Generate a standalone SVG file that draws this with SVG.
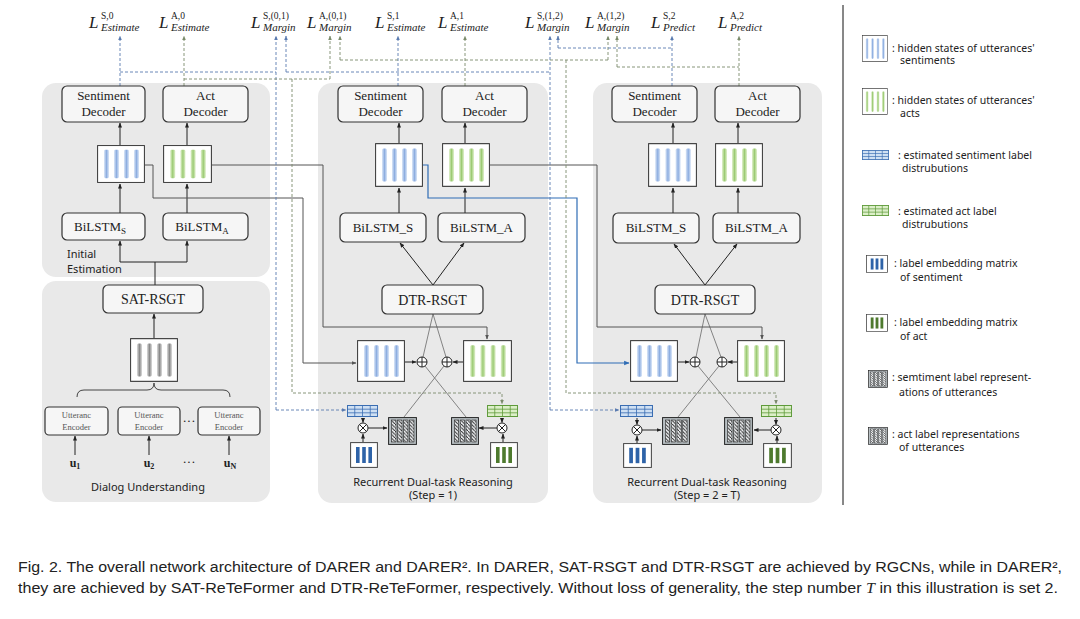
<svg xmlns="http://www.w3.org/2000/svg" width="1080" height="619" viewBox="0 0 1080 619">
<style>
.panel{fill:#e9e9e9;stroke:none}
.box{fill:#f6f6f6;stroke:#333;stroke-width:1.2}
.bt{font-family:"Liberation Serif",serif;font-size:13px;fill:#222;text-anchor:middle}
.bt2{font-family:"Liberation Serif",serif;font-size:14px;fill:#222;text-anchor:middle}
.ue{font-family:"Liberation Serif",serif;font-size:8.5px;fill:#555;text-anchor:middle}
.u{font-family:"Liberation Serif",serif;font-size:12px;font-weight:bold;fill:#222;text-anchor:middle}
.cm{font-family:"Noto Sans",sans-serif;font-size:11px;fill:#222}
.lg{font-family:"Noto Sans",sans-serif;font-size:10.5px;fill:#222}
.L{font-family:"Liberation Serif",serif;font-size:17px;font-style:italic;fill:#222}
.sup{font-family:"Liberation Serif",serif;font-size:9.5px;fill:#222}
.sub{font-family:"Liberation Serif",serif;font-size:11px;font-style:italic;fill:#222}
.cap{font-family:"Liberation Sans",sans-serif;font-size:14px;fill:#222}
.ar{fill:none;stroke:#222;stroke-width:1;marker-end:url(#ah)}
.ln{fill:none;stroke:#777;stroke-width:0.9}
.fg{fill:none;stroke:#555;stroke-width:1;marker-end:url(#ahg)}
.fb{fill:none;stroke:#2f6db5;stroke-width:1.2;marker-end:url(#ahb)}
.ds{fill:none;stroke:#5a7bb0;stroke-width:0.9;stroke-dasharray:3 2}
.da{fill:none;stroke:#7b8b6b;stroke-width:0.9;stroke-dasharray:3 2}
.dsa{marker-end:url(#ahs)}
.daa{marker-end:url(#aha)}
.op{fill:#fff;stroke:#222;stroke-width:1}
</style>
<defs>
<marker id="ah" viewBox="0 0 10 10" refX="9" refY="5" markerWidth="5" markerHeight="5" orient="auto"><path d="M0,1L10,5L0,9z" fill="#222"/></marker>
<marker id="ahg" viewBox="0 0 10 10" refX="9" refY="5" markerWidth="5" markerHeight="5" orient="auto"><path d="M0,1L10,5L0,9z" fill="#555"/></marker>
<marker id="ahb" viewBox="0 0 10 10" refX="9" refY="5" markerWidth="4.5" markerHeight="4.5" orient="auto"><path d="M0,1L10,5L0,9z" fill="#2f6db5"/></marker>
<marker id="ahs" viewBox="0 0 10 10" refX="9" refY="5" markerWidth="5" markerHeight="5" orient="auto"><path d="M0,1L10,5L0,9z" fill="#5a7bb0"/></marker>
<marker id="aha" viewBox="0 0 10 10" refX="9" refY="5" markerWidth="5" markerHeight="5" orient="auto"><path d="M0,1L10,5L0,9z" fill="#7b8b6b"/></marker>
<linearGradient id="gB" x1="0" y1="0" x2="1" y2="0"><stop offset="0" stop-color="#dbe7f8"/><stop offset="0.5" stop-color="#8eaee0"/><stop offset="1" stop-color="#dbe7f8"/></linearGradient>
<linearGradient id="gG" x1="0" y1="0" x2="1" y2="0"><stop offset="0" stop-color="#e2f1cf"/><stop offset="0.5" stop-color="#9ccb74"/><stop offset="1" stop-color="#e2f1cf"/></linearGradient>
<linearGradient id="gK" x1="0" y1="0" x2="1" y2="0"><stop offset="0" stop-color="#dcdcdc"/><stop offset="0.5" stop-color="#8a8a8a"/><stop offset="1" stop-color="#dcdcdc"/></linearGradient>
<pattern id="hatch" width="3.5" height="3.5" patternUnits="userSpaceOnUse"><rect width="3.5" height="3.5" fill="#eef0f2"/><path d="M0,0L3.5,3.5" stroke="#222" stroke-width="0.9"/></pattern>
<symbol id="hsB" viewBox="0 0 48 40" preserveAspectRatio="none">
<rect x="0.6" y="0.6" width="46.8" height="38.8" fill="#fff" stroke="#333" stroke-width="1"/>
<rect x="7" y="5" width="5" height="30" rx="1.5" fill="url(#gB)"/><rect x="17" y="5" width="5" height="30" rx="1.5" fill="url(#gB)"/><rect x="27" y="5" width="5" height="30" rx="1.5" fill="url(#gB)"/><rect x="37" y="5" width="5" height="30" rx="1.5" fill="url(#gB)"/>
</symbol>
<symbol id="hsG" viewBox="0 0 48 40" preserveAspectRatio="none">
<rect x="0.6" y="0.6" width="46.8" height="38.8" fill="#fff" stroke="#333" stroke-width="1"/>
<rect x="7" y="5" width="5" height="30" rx="1.5" fill="url(#gG)"/><rect x="17" y="5" width="5" height="30" rx="1.5" fill="url(#gG)"/><rect x="27" y="5" width="5" height="30" rx="1.5" fill="url(#gG)"/><rect x="37" y="5" width="5" height="30" rx="1.5" fill="url(#gG)"/>
</symbol>
<symbol id="hsK" viewBox="0 0 48 40" preserveAspectRatio="none">
<rect x="0.6" y="0.6" width="46.8" height="38.8" fill="#fff" stroke="#333" stroke-width="1"/>
<rect x="7" y="5" width="5" height="30" rx="1.5" fill="url(#gK)"/><rect x="17" y="5" width="5" height="30" rx="1.5" fill="url(#gK)"/><rect x="27" y="5" width="5" height="30" rx="1.5" fill="url(#gK)"/><rect x="37" y="5" width="5" height="30" rx="1.5" fill="url(#gK)"/>
</symbol>
<symbol id="ldB" viewBox="0 0 32 12" preserveAspectRatio="none">
<rect x="0.5" y="0.5" width="31" height="11" fill="#cfe0f3" stroke="#3a6db2"/>
<path d="M0.5,4.2H31.5M0.5,7.8H31.5M8,0.5V11.5M16,0.5V11.5M24,0.5V11.5" stroke="#3a6db2" stroke-width="0.8"/>
</symbol>
<symbol id="ldG" viewBox="0 0 32 12" preserveAspectRatio="none">
<rect x="0.5" y="0.5" width="31" height="11" fill="#dcefc8" stroke="#5e9a3a"/>
<path d="M0.5,4.2H31.5M0.5,7.8H31.5M8,0.5V11.5M16,0.5V11.5M24,0.5V11.5" stroke="#5e9a3a" stroke-width="0.8"/>
</symbol>
<symbol id="emB" viewBox="0 0 28 26" preserveAspectRatio="none">
<rect x="0.6" y="0.6" width="26.8" height="24.8" fill="#fff" stroke="#444"/>
<rect x="6" y="5" width="3.6" height="16" fill="#2e63a8"/><rect x="12.2" y="5" width="3.6" height="16" fill="#2e63a8"/><rect x="18.4" y="5" width="3.6" height="16" fill="#2e63a8"/>
</symbol>
<symbol id="emG" viewBox="0 0 28 26" preserveAspectRatio="none">
<rect x="0.6" y="0.6" width="26.8" height="24.8" fill="#fff" stroke="#444"/>
<rect x="6" y="5" width="3.6" height="16" fill="#4e7a2e"/><rect x="12.2" y="5" width="3.6" height="16" fill="#4e7a2e"/><rect x="18.4" y="5" width="3.6" height="16" fill="#4e7a2e"/>
</symbol>
<symbol id="rep" viewBox="0 0 29 28" preserveAspectRatio="none">
<rect x="0.6" y="0.6" width="27.8" height="26.8" fill="#b9c0c4" stroke="#222"/>
<rect x="3.5" y="3" width="4.5" height="22" fill="url(#hatch)" stroke="#222" stroke-width="0.6"/><rect x="9.5" y="3" width="4.5" height="22" fill="url(#hatch)" stroke="#222" stroke-width="0.6"/><rect x="15.5" y="3" width="4.5" height="22" fill="url(#hatch)" stroke="#222" stroke-width="0.6"/><rect x="21.5" y="3" width="4.5" height="22" fill="url(#hatch)" stroke="#222" stroke-width="0.6"/>
</symbol>
<symbol id="plus" viewBox="-6 -6 12 12"><circle r="5" fill="#fff" stroke="#222" stroke-width="1"/><path d="M-5,0H5M0,-5V5" stroke="#222" stroke-width="1"/></symbol>
<symbol id="times" viewBox="-6 -6 12 12"><circle r="5" fill="#fff" stroke="#222" stroke-width="1"/><path d="M-3.5,-3.5L3.5,3.5M-3.5,3.5L3.5,-3.5" stroke="#222" stroke-width="1"/></symbol>
</defs>
<rect width="1080" height="619" fill="#fff"/>

<!-- panels -->
<g id="panels">
<rect class="panel" x="42" y="83" width="228" height="194" rx="14"/>
<rect class="panel" x="42" y="281" width="228" height="221" rx="14"/>
<rect class="panel" x="318" y="83" width="230" height="420" rx="14"/>
<rect class="panel" x="593" y="83" width="229" height="420" rx="14"/>
<line x1="843" y1="5" x2="843" y2="505" stroke="#111" stroke-width="1"/>
</g>

<!-- connectors -->
<g id="connectors">
<!-- left top -->
<path class="ar" d="M120,145V123"/>
<path class="ar" d="M187,145V123"/>
<path class="ar" d="M120,213V184"/>
<path class="ar" d="M187,213V184"/>
<path class="ar" d="M155,285V262H120V241"/>
<path class="ar" d="M155,262H187V241"/>
<!-- left bottom -->
<path class="ar" d="M154,338V314"/>
<path class="ar" d="M75,455V436"/>
<path class="ar" d="M149,455V436"/>
<path class="ar" d="M229,455V436"/>
<path d="M77,397Q77,390 84,390H147Q154,390 154,383Q154,390 161,390H223Q230,390 230,397" fill="none" stroke="#444" stroke-width="1"/>
<!-- middle -->
<path class="ar" d="M399,143V123"/>
<path class="ar" d="M465,143V123"/>
<path class="ar" d="M399,213V188"/>
<path class="ar" d="M465,213V188"/>
<path class="ar" d="M433,285L400,243"/>
<path class="ar" d="M433,285L464,243"/>
<path class="ar" d="M405,362H416"/>
<path class="ar" d="M463,362H453"/>
<path class="ar" d="M363,418V422.5"/>
<path class="ar" d="M363,442V434"/>
<path class="ar" d="M368,428H387"/>
<path class="ar" d="M502,418V422.5"/>
<path class="ar" d="M503,442V434"/>
<path class="ar" d="M497,428H479"/>
<path class="ln" d="M433,314L423,357M433,314L446,357M425,366L466,417M444,366L404,417"/>
<!-- right -->
<path class="ar" d="M673,143V123"/>
<path class="ar" d="M738,143V123"/>
<path class="ar" d="M673,213V188"/>
<path class="ar" d="M738,213V188"/>
<path class="ar" d="M705,285L674,244"/>
<path class="ar" d="M705,285L737,244"/>
<path class="ar" d="M678,362H689"/>
<path class="ar" d="M737,362H728"/>
<path class="ar" d="M637,418V424.5"/>
<path class="ar" d="M637,443V436"/>
<path class="ar" d="M642,430H661"/>
<path class="ar" d="M776,418V424.5"/>
<path class="ar" d="M777,443V436"/>
<path class="ar" d="M771,430H754"/>
<path class="ln" d="M705,314L696,357M705,314L721,357M698,366L740,417M719,366L678,417"/>
<!-- feeds between steps -->
<path class="fg" d="M145,165H153V198H303V363H356"/>
<path class="fg" d="M212,165H323V327H487V339"/>
<path class="fb" d="M423,165H428V198H577V363H629"/>
<path class="fg" d="M490,165H597V327H762V339"/>
<!-- dashed loss connectors: sentiment step 0 -->
<path class="ds dsa" d="M120,86V36"/>
<path class="ds" d="M120,72H276"/>
<path class="ds dsa" d="M276,410V36"/>
<path class="ds dsa" d="M276,410H346"/>
<!-- act step 0 -->
<path class="da daa" d="M184,86V36"/>
<path class="da" d="M184,79H330"/>
<path class="da daa" d="M330,79V36"/>
<path class="da daa" d="M292,79V393H502V404"/>
<!-- sentiment step 1 -->
<path class="ds dsa" d="M398,86V36"/>
<path class="ds" d="M286,72H550"/>
<path class="ds dsa" d="M286,72V36"/>
<path class="ds dsa" d="M550,410V36"/>
<path class="ds dsa" d="M550,410H619"/>
<!-- act step 1 -->
<path class="da daa" d="M465,86V36"/>
<path class="da" d="M340,60H608"/>
<path class="da daa" d="M340,60V36"/>
<path class="da daa" d="M608,60V36"/>
<path class="da daa" d="M566,60V393H776V404"/>
<!-- step 2 -->
<path class="ds dsa" d="M672,86V36"/>
<path class="ds" d="M558,48H672"/>
<path class="ds dsa" d="M558,48V36"/>
<path class="da daa" d="M739,86V36"/>
<path class="da" d="M617,67H739"/>
<path class="da daa" d="M617,67V36"/>
</g>

<!-- loss labels -->
<g id="loss-s0"><text class="L" x="89" y="28">L</text><text class="sup" x="101" y="19">S,0</text><text class="sub" x="101" y="31">Estimate</text></g>
<g id="loss-a0"><text class="L" x="159" y="28">L</text><text class="sup" x="171" y="19">A,0</text><text class="sub" x="171" y="31">Estimate</text></g>
<g id="loss-s01"><text class="L" x="251" y="28">L</text><text class="sup" x="263" y="19">S,(0,1)</text><text class="sub" x="263" y="31">Margin</text></g>
<g id="loss-a01"><text class="L" x="307" y="28">L</text><text class="sup" x="319" y="19">A,(0,1)</text><text class="sub" x="319" y="31">Margin</text></g>
<g id="loss-s1"><text class="L" x="375" y="28">L</text><text class="sup" x="387" y="19">S,1</text><text class="sub" x="387" y="31">Estimate</text></g>
<g id="loss-a1"><text class="L" x="438" y="28">L</text><text class="sup" x="450" y="19">A,1</text><text class="sub" x="450" y="31">Estimate</text></g>
<g id="loss-s12"><text class="L" x="525" y="28">L</text><text class="sup" x="537" y="19">S,(1,2)</text><text class="sub" x="537" y="31">Margin</text></g>
<g id="loss-a12"><text class="L" x="585" y="28">L</text><text class="sup" x="597" y="19">A,(1,2)</text><text class="sub" x="597" y="31">Margin</text></g>
<g id="loss-s2"><text class="L" x="651" y="28">L</text><text class="sup" x="663" y="19">S,2</text><text class="sub" x="663" y="31">Predict</text></g>
<g id="loss-a2"><text class="L" x="718" y="28">L</text><text class="sup" x="730" y="19">A,2</text><text class="sub" x="730" y="31">Predict</text></g>

<!-- left top: initial estimation -->
<g id="sent-dec-0"><rect class="box" x="62" y="86" width="83" height="36" rx="5"/><text class="bt" x="103.5" y="100">Sentiment</text><text class="bt" x="103.5" y="116">Decoder</text></g>
<g id="act-dec-0"><rect class="box" x="163" y="86" width="85" height="36" rx="5"/><text class="bt" x="205.5" y="100">Act</text><text class="bt" x="205.5" y="116">Decoder</text></g>
<g id="hs-s-0"><use href="#hsB" x="97" y="145" width="48" height="38"/></g>
<g id="hs-a-0"><use href="#hsG" x="163" y="145" width="49" height="38"/></g>
<g id="bilstm-s-0"><rect class="box" x="62" y="213" width="83" height="27" rx="5"/><text class="bt" x="100" y="231">BiLSTM<tspan font-size="9" dy="3">S</tspan></text></g>
<g id="bilstm-a-0"><rect class="box" x="163" y="213" width="85" height="27" rx="5"/><text class="bt" x="202" y="231">BiLSTM<tspan font-size="9" dy="3">A</tspan></text></g>
<g id="lbl-initial"><text class="cm" x="67" y="258">Initial</text><text class="cm" x="67" y="273">Estimation</text></g>

<!-- left bottom: dialog understanding -->
<g id="sat-rsgt"><rect class="box" x="103" y="285" width="100" height="28" rx="5"/><text class="bt2" x="153" y="304">SAT-RSGT</text></g>
<g id="hs-utt"><use href="#hsK" x="130" y="338" width="48" height="44"/></g>
<g id="enc-1"><rect class="box" x="45" y="407" width="63" height="28" rx="4"/><text class="ue" x="76.5" y="418">Utteranc</text><text class="ue" x="76.5" y="430">Encoder</text></g>
<g id="enc-2"><rect class="box" x="118" y="407" width="62" height="28" rx="4"/><text class="ue" x="149" y="418">Utteranc</text><text class="ue" x="149" y="430">Encoder</text></g>
<g id="enc-n"><rect class="box" x="198" y="407" width="62" height="28" rx="4"/><text class="ue" x="229" y="418">Utteranc</text><text class="ue" x="229" y="430">Encoder</text></g>
<text class="bt" x="189" y="425">···</text>
<g id="u1"><text class="u" x="75" y="467">u<tspan font-size="8" dy="2">1</tspan></text></g>
<g id="u2"><text class="u" x="149" y="467">u<tspan font-size="8" dy="2">2</tspan></text></g>
<text class="bt" x="189" y="466">···</text>
<g id="un"><text class="u" x="230" y="467">u<tspan font-size="8" dy="2">N</tspan></text></g>
<g id="lbl-dialog"><text class="cm" x="148" y="491" text-anchor="middle">Dialog Understanding</text></g>

<!-- middle: step 1 -->
<g id="sent-dec-1"><rect class="box" x="338" y="86" width="85" height="36" rx="5"/><text class="bt" x="380.5" y="100">Sentiment</text><text class="bt" x="380.5" y="116">Decoder</text></g>
<g id="act-dec-1"><rect class="box" x="442" y="86" width="85" height="36" rx="5"/><text class="bt" x="484.5" y="100">Act</text><text class="bt" x="484.5" y="116">Decoder</text></g>
<g id="hs-s-1"><use href="#hsB" x="375" y="143" width="48" height="44"/></g>
<g id="hs-a-1"><use href="#hsG" x="442" y="143" width="48" height="44"/></g>
<g id="bilstm-s-1"><rect class="box" x="340" y="213" width="86" height="29" rx="5"/><text class="bt" x="383" y="232">BiLSTM_S</text></g>
<g id="bilstm-a-1"><rect class="box" x="438" y="213" width="87" height="29" rx="5"/><text class="bt" x="481.5" y="232">BiLSTM_A</text></g>
<g id="dtr-1"><rect class="box" x="382" y="285" width="101" height="29" rx="5"/><text class="bt2" x="432.5" y="305">DTR-RSGT</text></g>
<g id="hs-s-1b"><use href="#hsB" x="357" y="340" width="48" height="42"/></g>
<g id="hs-a-1b"><use href="#hsG" x="463" y="340" width="49" height="42"/></g>
<g id="plus-s-1"><use href="#plus" x="416" y="356" width="12" height="12"/></g>
<g id="plus-a-1"><use href="#plus" x="441" y="356" width="12" height="12"/></g>
<g id="ld-s-1"><use href="#ldB" x="347" y="405" width="31" height="12"/></g>
<g id="ld-a-1"><use href="#ldG" x="487" y="405" width="31" height="12"/></g>
<g id="mul-s-1"><use href="#times" x="357" y="422" width="12" height="12"/></g>
<g id="mul-a-1"><use href="#times" x="496" y="422" width="12" height="12"/></g>
<g id="em-s-1"><use href="#emB" x="350" y="442" width="28" height="26"/></g>
<g id="em-a-1"><use href="#emG" x="490" y="442" width="28" height="26"/></g>
<g id="rep-s-1"><use href="#rep" x="388" y="417" width="29" height="28"/></g>
<g id="rep-a-1"><use href="#rep" x="451" y="417" width="28" height="28"/></g>
<g id="lbl-step1"><text class="cm" x="433" y="486" text-anchor="middle">Recurrent Dual-task Reasoning</text><text class="cm" x="433" y="499" text-anchor="middle">(Step = 1)</text></g>

<!-- right: step 2 -->
<g id="sent-dec-2"><rect class="box" x="612" y="86" width="85" height="36" rx="5"/><text class="bt" x="654.5" y="100">Sentiment</text><text class="bt" x="654.5" y="116">Decoder</text></g>
<g id="act-dec-2"><rect class="box" x="715" y="86" width="85" height="36" rx="5"/><text class="bt" x="757.5" y="100">Act</text><text class="bt" x="757.5" y="116">Decoder</text></g>
<g id="hs-s-2"><use href="#hsB" x="648" y="143" width="49" height="44"/></g>
<g id="hs-a-2"><use href="#hsG" x="715" y="143" width="48" height="44"/></g>
<g id="bilstm-s-2"><rect class="box" x="613" y="213" width="86" height="30" rx="5"/><text class="bt" x="656" y="232">BiLSTM_S</text></g>
<g id="bilstm-a-2"><rect class="box" x="713" y="213" width="87" height="30" rx="5"/><text class="bt" x="756.5" y="232">BiLSTM_A</text></g>
<g id="dtr-2"><rect class="box" x="655" y="285" width="100" height="29" rx="5"/><text class="bt2" x="705" y="305">DTR-RSGT</text></g>
<g id="hs-s-2b"><use href="#hsB" x="630" y="340" width="48" height="42"/></g>
<g id="hs-a-2b"><use href="#hsG" x="737" y="340" width="48" height="42"/></g>
<g id="plus-s-2"><use href="#plus" x="689" y="356" width="12" height="12"/></g>
<g id="plus-a-2"><use href="#plus" x="716" y="356" width="12" height="12"/></g>
<g id="ld-s-2"><use href="#ldB" x="620" y="405" width="33" height="12"/></g>
<g id="ld-a-2"><use href="#ldG" x="761" y="405" width="31" height="12"/></g>
<g id="mul-s-2"><use href="#times" x="631" y="424" width="12" height="12"/></g>
<g id="mul-a-2"><use href="#times" x="770" y="424" width="12" height="12"/></g>
<g id="em-s-2"><use href="#emB" x="623" y="443" width="29" height="25"/></g>
<g id="em-a-2"><use href="#emG" x="763" y="443" width="29" height="25"/></g>
<g id="rep-s-2"><use href="#rep" x="662" y="417" width="28" height="28"/></g>
<g id="rep-a-2"><use href="#rep" x="724" y="417" width="29" height="28"/></g>
<g id="lbl-step2"><text class="cm" x="707" y="486" text-anchor="middle">Recurrent Dual-task Reasoning</text><text class="cm" x="707" y="499" text-anchor="middle">(Step = 2 = T)</text></g>

<!-- legend -->
<g id="legend">
<use href="#hsB" x="862" y="35" width="26" height="27"/>
<text class="lg" x="892" y="52">: hidden states of utterances'</text><text class="lg" x="900" y="64">sentiments</text>
<use href="#hsG" x="862" y="88" width="26" height="27"/>
<text class="lg" x="892" y="104">: hidden states of utterances'</text><text class="lg" x="900" y="117">acts</text>
<use href="#ldB" x="862" y="150" width="27" height="10"/>
<text class="lg" x="898" y="159">: estimated sentiment label</text><text class="lg" x="902" y="172">distrubutions</text>
<use href="#ldG" x="862" y="205" width="27" height="11"/>
<text class="lg" x="898" y="215">: estimated act  label</text><text class="lg" x="902" y="228">distrubutions</text>
<use href="#emB" x="866" y="255" width="22" height="18"/>
<text class="lg" x="894" y="267">: label embedding matrix</text><text class="lg" x="900" y="281">of sentiment</text>
<use href="#emG" x="866" y="314" width="22" height="18"/>
<text class="lg" x="894" y="326">: label embedding matrix</text><text class="lg" x="900" y="340">of act</text>
<use href="#rep" x="868" y="370" width="20" height="18"/>
<text class="lg" x="892" y="381">: semtiment label represent-</text><text class="lg" x="899" y="396">ations of utterances</text>
<use href="#rep" x="868" y="427" width="20" height="18"/>
<text class="lg" x="892" y="438">: act label representations</text><text class="lg" x="899" y="451">of utterances</text>
</g>

<!-- caption -->
<g id="caption">
<text class="cap" x="18" y="572" textLength="1044" lengthAdjust="spacingAndGlyphs">Fig. 2. The overall network architecture of DARER and DARER². In DARER, SAT-RSGT and DTR-RSGT are achieved by RGCNs, while in DARER²,</text>
<text class="cap" x="18" y="593" textLength="1040" lengthAdjust="spacingAndGlyphs">they are achieved by SAT-ReTeFormer and DTR-ReTeFormer, respectively. Without loss of generality, the step number <tspan font-family="Liberation Serif, serif" font-style="italic">T</tspan> in this illustration is set 2.</text>
</g>
</svg>
